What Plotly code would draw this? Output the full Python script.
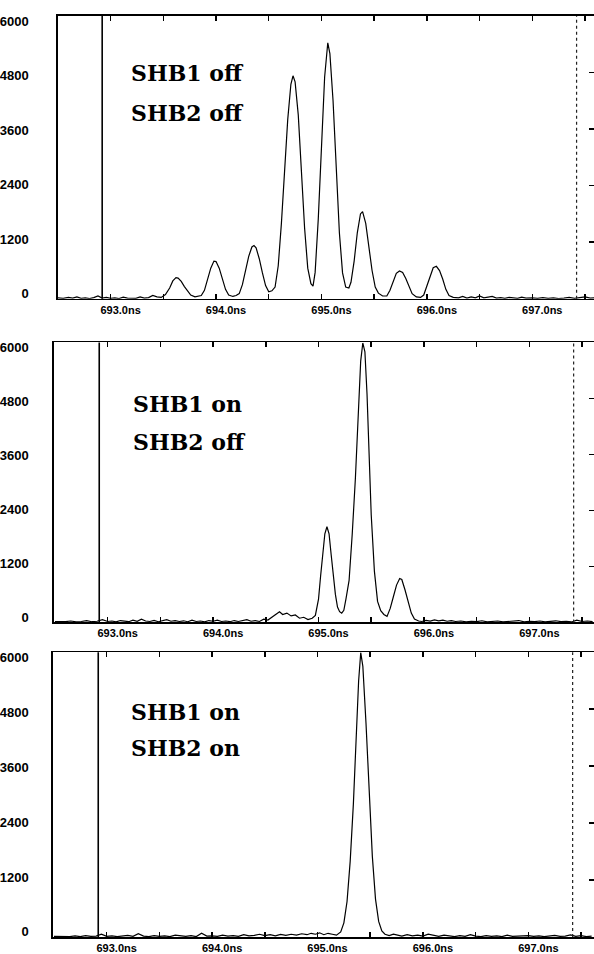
import plotly.graph_objects as go

# ---------------- data ----------------
tick_vals_x = [693.0, 693.5, 694.0, 694.5, 695.0, 695.5, 696.0, 696.5, 697.0, 697.5]
tick_text_x = ["693.0ns", "", "694.0ns", "", "695.0ns", "", "696.0ns", "", "697.0ns", ""]
tick_vals_y = [0, 1200, 2400, 3600, 4800, 6000]
tick_text_y = ["0", "1200", "2400", "3600", "4800", "6000"]

labels_1 = ["SHB1 off", "SHB2 off"]
labels_2 = ["SHB1 on", "SHB2 off"]
labels_3 = ["SHB1 on", "SHB2 on"]

cursor_solid = 692.92
cursor_dotted = 697.42

t1 = [692.50, 692.55, 692.60, 692.64, 692.68, 692.72, 692.76, 692.80, 692.84, 692.88, 692.92, 692.96,
      693.00, 693.04, 693.08, 693.12, 693.16, 693.20, 693.24, 693.28, 693.32, 693.36, 693.40, 693.44,
      693.48, 693.52, 693.56, 693.59, 693.62, 693.64, 693.67, 693.70, 693.73, 693.76, 693.80, 693.84,
      693.86, 693.89, 693.92, 693.95, 693.98, 694.00, 694.03, 694.06, 694.09, 694.12, 694.16, 694.19,
      694.22, 694.25, 694.28, 694.31, 694.34, 694.36, 694.38, 694.41, 694.44, 694.47, 694.50, 694.53,
      694.56, 694.59, 694.62, 694.65, 694.68, 694.71, 694.73, 694.75, 694.78, 694.81, 694.84, 694.87, 694.90, 694.92,
      694.94, 694.97, 695.00, 695.03, 695.06, 695.08, 695.11, 695.14, 695.17, 695.20, 695.23, 695.26,
      695.28, 695.31, 695.34, 695.37, 695.39, 695.42, 695.45, 695.48, 695.51, 695.54, 695.58,
      695.62, 695.65, 695.68, 695.71, 695.74, 695.77, 695.80, 695.83, 695.86, 695.90, 695.94,
      695.97, 696.00, 696.03, 696.06, 696.09, 696.12, 696.15, 696.18, 696.21, 696.25,
      696.30, 696.34, 696.38, 696.42, 696.46, 696.50, 696.54, 696.58, 696.62, 696.66, 696.70, 696.74,
      696.78, 696.82, 696.86, 696.90, 696.94, 697.00, 697.05, 697.10, 697.15, 697.20, 697.25, 697.30,
      697.35, 697.40, 697.45, 697.50, 697.55, 697.60]
c1 = [20, 10, 30, 15, 40, 10, 20, 5, 25, 60, 15, 30,
      10, 20, 5, 35, 15, 20, 10, 40, 15, 25, 70, 40,
      30, 90, 230, 380, 450, 440, 370, 260, 160, 80, 40, 60,
      70, 180, 400, 650, 800, 790, 650, 420, 200, 80, 50, 70,
      110, 300, 600, 900, 1100, 1130, 1080, 850, 550, 280, 150, 170,
      250, 700, 1600, 2700, 3800, 4550, 4730, 4600, 3900, 2700, 1500, 650, 320, 270,
      560, 1700, 3300, 4700, 5430, 5200, 4200, 2800, 1400, 550, 250, 230,
      350, 800, 1400, 1800, 1850, 1600, 1100, 600, 250, 120, 60,
      60, 180, 380, 540, 590, 560, 430, 250, 110, 40, 30,
      80, 270, 500, 660, 690, 600, 420, 200, 70, 30,
      20, 50, 15, 40, 20, 60, 20, 30, 50, 15, 25, 10,
      30, 20, 10, 35, 15, 20, 10, 25, 10, 20, 5, 15,
      30, 10, 20, 40, 15, 20]

t2 = [692.50, 692.55, 692.60, 692.65, 692.70, 692.75, 692.80, 692.85, 692.90, 692.95,
      693.00, 693.04, 693.08, 693.12, 693.16, 693.20, 693.24, 693.28, 693.32, 693.36,
      693.40, 693.44, 693.48, 693.52, 693.56, 693.60, 693.64, 693.68, 693.72, 693.76,
      693.80, 693.84, 693.88, 693.92, 693.96, 694.00, 694.04, 694.08, 694.12, 694.16,
      694.20, 694.24, 694.28, 694.32, 694.36, 694.40, 694.44, 694.48, 694.52, 694.56,
      694.60, 694.63, 694.66, 694.70, 694.74, 694.78, 694.82, 694.86, 694.90, 694.94,
      694.97, 695.00, 695.02, 695.04, 695.06, 695.08, 695.10, 695.12, 695.14, 695.16, 695.18, 695.20, 695.22, 695.24,
      695.26, 695.29, 695.32, 695.35, 695.38, 695.40, 695.42, 695.44, 695.46, 695.48, 695.50, 695.53, 695.56, 695.59, 695.62, 695.65,
      695.68, 695.71, 695.74, 695.77, 695.79, 695.82, 695.85, 695.88, 695.91, 695.95,
      695.98, 696.02, 696.06, 696.10, 696.14, 696.18, 696.22, 696.26, 696.30, 696.35,
      696.40, 696.45, 696.50, 696.55, 696.60, 696.65, 696.70, 696.75, 696.80, 696.85,
      696.90, 696.95, 697.00, 697.05, 697.10, 697.15, 697.20, 697.25, 697.30, 697.35,
      697.40, 697.45, 697.50, 697.55, 697.60]
c2 = [20, 10, 15, 30, 10, 20, 40, 15, 25, 60,
      20, 30, 10, 40, 20, 15, 50, 25, 70, 30,
      20, 45, 15, 30, 60, 25, 40, 20, 35, 15,
      50, 20, 30, 10, 40, 25, 50, 20, 30, 15,
      40, 20, 35, 60, 25, 40, 20, 70, 50, 120,
      180, 230, 170, 200, 140, 160, 90, 110, 60, 90,
      150, 500, 1000, 1500, 1900, 2050, 1900, 1450, 1000, 600, 330, 230, 200, 260,
      500, 900, 1900, 3100, 4600, 5600, 5990, 5800, 4900, 3500, 2300, 1100, 450, 250, 170, 130,
      300, 550, 800, 940, 920, 700, 430, 200, 70, 30,
      20, 45, 30, 55, 35, 50, 25, 40, 20, 30,
      10, 25, 15, 35, 10, 20, 30, 10, 20, 15,
      40, 10, 25, 15, 30, 10, 20, 35, 15, 25,
      10, 50, 20, 30, 15]

t3 = [692.50, 692.55, 692.60, 692.65, 692.70, 692.75, 692.80, 692.85, 692.90, 692.95,
      693.00, 693.05, 693.10, 693.15, 693.20, 693.25, 693.30, 693.35, 693.40, 693.45,
      693.50, 693.55, 693.60, 693.65, 693.70, 693.75, 693.80, 693.85, 693.90, 693.95,
      694.00, 694.05, 694.10, 694.15, 694.20, 694.25, 694.30, 694.35, 694.40, 694.45,
      694.50, 694.55, 694.60, 694.65, 694.70, 694.75, 694.80, 694.85, 694.90, 694.94,
      694.98, 695.02, 695.06, 695.10, 695.14, 695.18,
      695.22, 695.25, 695.28, 695.31, 695.34, 695.37, 695.39, 695.41, 695.43, 695.46,
      695.49, 695.52, 695.55, 695.58, 695.61, 695.64,
      695.68, 695.72, 695.76, 695.80, 695.85, 695.90, 695.95, 696.00, 696.05, 696.10,
      696.15, 696.20, 696.25, 696.30, 696.35, 696.40, 696.45, 696.50, 696.55, 696.60,
      696.65, 696.70, 696.75, 696.80, 696.85, 696.90, 696.95, 697.00, 697.05, 697.10,
      697.15, 697.20, 697.25, 697.30, 697.35, 697.40, 697.45, 697.50, 697.55, 697.60]
c3 = [15, 10, 20, 10, 25, 10, 30, 15, 20, 60,
      15, 25, 10, 20, 35, 15, 70, 20, 10, 30,
      15, 25, 10, 40, 20, 15, 30, 10, 80, 20,
      25, 15, 40, 20, 30, 15, 50, 25, 35, 60,
      30, 50, 25, 55, 35, 60, 40, 70, 50, 80,
      60, 90, 50, 80, 60, 40,
      110, 300, 750, 1600, 2800, 4300, 5400, 5990, 5700, 4500,
      3000, 1700, 800, 330, 130, 60,
      30, 60, 40, 20, 50, 25, 40, 20, 60, 30,
      15, 40, 20, 10, 30, 15, 50, 20, 10, 30,
      15, 25, 10, 40, 15, 20, 10, 30, 15, 25,
      10, 20, 35, 15, 20, 45, 15, 30, 10, 20]

# ---------------- layout helpers (pixels -> paper) ----------------
W, H = 594, 954
px = 105.6  # pixels per ns

panels = [
    dict(left=57, top=14, bottom=299, x0=692.50, standoff=25, tx=128, ty=(72, 112), t=t1, c=c1, lab=labels_1),
    dict(left=53, top=343, bottom=625, x0=692.49, standoff=21, tx=130, ty=(405, 443), t=t2, c=c2, lab=labels_2),
    dict(left=52, top=655, bottom=942, x0=692.49, standoff=20, tx=128, ty=(715, 752), t=t3, c=c3, lab=labels_3),
]

# the scanned y-labels sit slightly inside the frame at the two ends
label_inset = 110
label_pos_y = [label_inset + v * (6000 - 2 * label_inset) / 6000 for v in tick_vals_y]

fig = go.Figure()
tick_font_y = dict(family="Liberation Sans, Arial, sans-serif", size=13, color="black", weight="bold")
tick_font_x = dict(family="Liberation Sans, Arial, sans-serif", size=11, color="black", weight="bold")
shapes, annotations = [], []
layout_axes = {}

for i, p in enumerate(panels):
    n = i + 1
    xa = "x" if n == 1 else f"x{n}"
    ya = "y" if n == 1 else f"y{n}"
    yr = f"y{n + 3}"
    x1 = p["x0"] + (W - p["left"]) / px
    dom_x = [p["left"] / W, 1.0]
    dom_y = [1 - p["bottom"] / H, 1 - p["top"] / H]

    fig.add_trace(go.Scatter(x=p["t"], y=p["c"], mode="lines", xaxis=xa, yaxis=ya,
                             line=dict(color="black", width=1.2), showlegend=False,
                             hoverinfo="skip"))
    fig.add_trace(go.Scatter(x=[None], y=[None], mode="lines", xaxis=xa, yaxis=yr,
                             showlegend=False, hoverinfo="skip"))

    xkey = "xaxis" if n == 1 else f"xaxis{n}"
    ykey = "yaxis" if n == 1 else f"yaxis{n}"
    layout_axes[xkey] = dict(
        domain=dom_x, range=[p["x0"], x1], anchor=ya,
        showline=True, mirror="ticks", linecolor="black", linewidth=1.6,
        ticks="inside", ticklen=5, tickwidth=1.5, tickcolor="black",
        tickvals=tick_vals_x, ticktext=tick_text_x, tickfont=tick_font_x,
        ticklabelshift=10, ticklabelstandoff=0,
        showgrid=False, zeroline=False, fixedrange=True,
    )
    layout_axes[ykey] = dict(
        domain=dom_y, range=[0, 6000], anchor=xa,
        showline=True, mirror=False, linecolor="black", linewidth=1.6,
        ticks="", tickvals=label_pos_y, ticktext=tick_text_y, tickfont=tick_font_y,
        ticklabelstandoff=p["standoff"],
        showgrid=False, zeroline=False, fixedrange=True,
    )
    layout_axes[f"yaxis{n + 3}"] = dict(
        overlaying=ya, side="right", anchor=xa, range=[0, 6000],
        tickvals=tick_vals_y[1:-1], ticks="inside", ticklen=5, tickwidth=1.5, tickcolor="black",
        showticklabels=False, showline=False, showgrid=False, zeroline=False, fixedrange=True,
    )

    shapes.append(dict(type="line", xref=xa, yref=f"{ya} domain", x0=cursor_solid, x1=cursor_solid,
                       y0=0, y1=1, line=dict(color="black", width=1.6)))
    shapes.append(dict(type="line", xref=xa, yref=f"{ya} domain", x0=cursor_dotted, x1=cursor_dotted,
                       y0=0, y1=1, line=dict(color="#222", width=1.2, dash="dot")))

    for k, txt in enumerate(p["lab"]):
        annotations.append(dict(
            text=txt, xref="paper", yref="paper", x=p["tx"] / W, y=1 - p["ty"][k] / H,
            xanchor="left", yanchor="middle", showarrow=False,
            font=dict(family="DejaVu Serif, Liberation Serif, serif", size=22, color="black",
                      weight="bold"),
        ))

fig.update_layout(
    width=W, height=H, autosize=False,
    margin=dict(l=0, r=0, t=0, b=0, pad=0),
    paper_bgcolor="white", plot_bgcolor="white",
    shapes=shapes, annotations=annotations, showlegend=False,
    **layout_axes,
)

fig.write_html(
    "out.html",
    config={"displayModeBar": False, "staticPlot": True},
    post_script=(
        "var s='margin:0;padding:0;overflow:hidden;width:594px;height:954px;';"
        "document.documentElement.style.cssText=s;document.body.style.cssText=s;"
    ),
)
